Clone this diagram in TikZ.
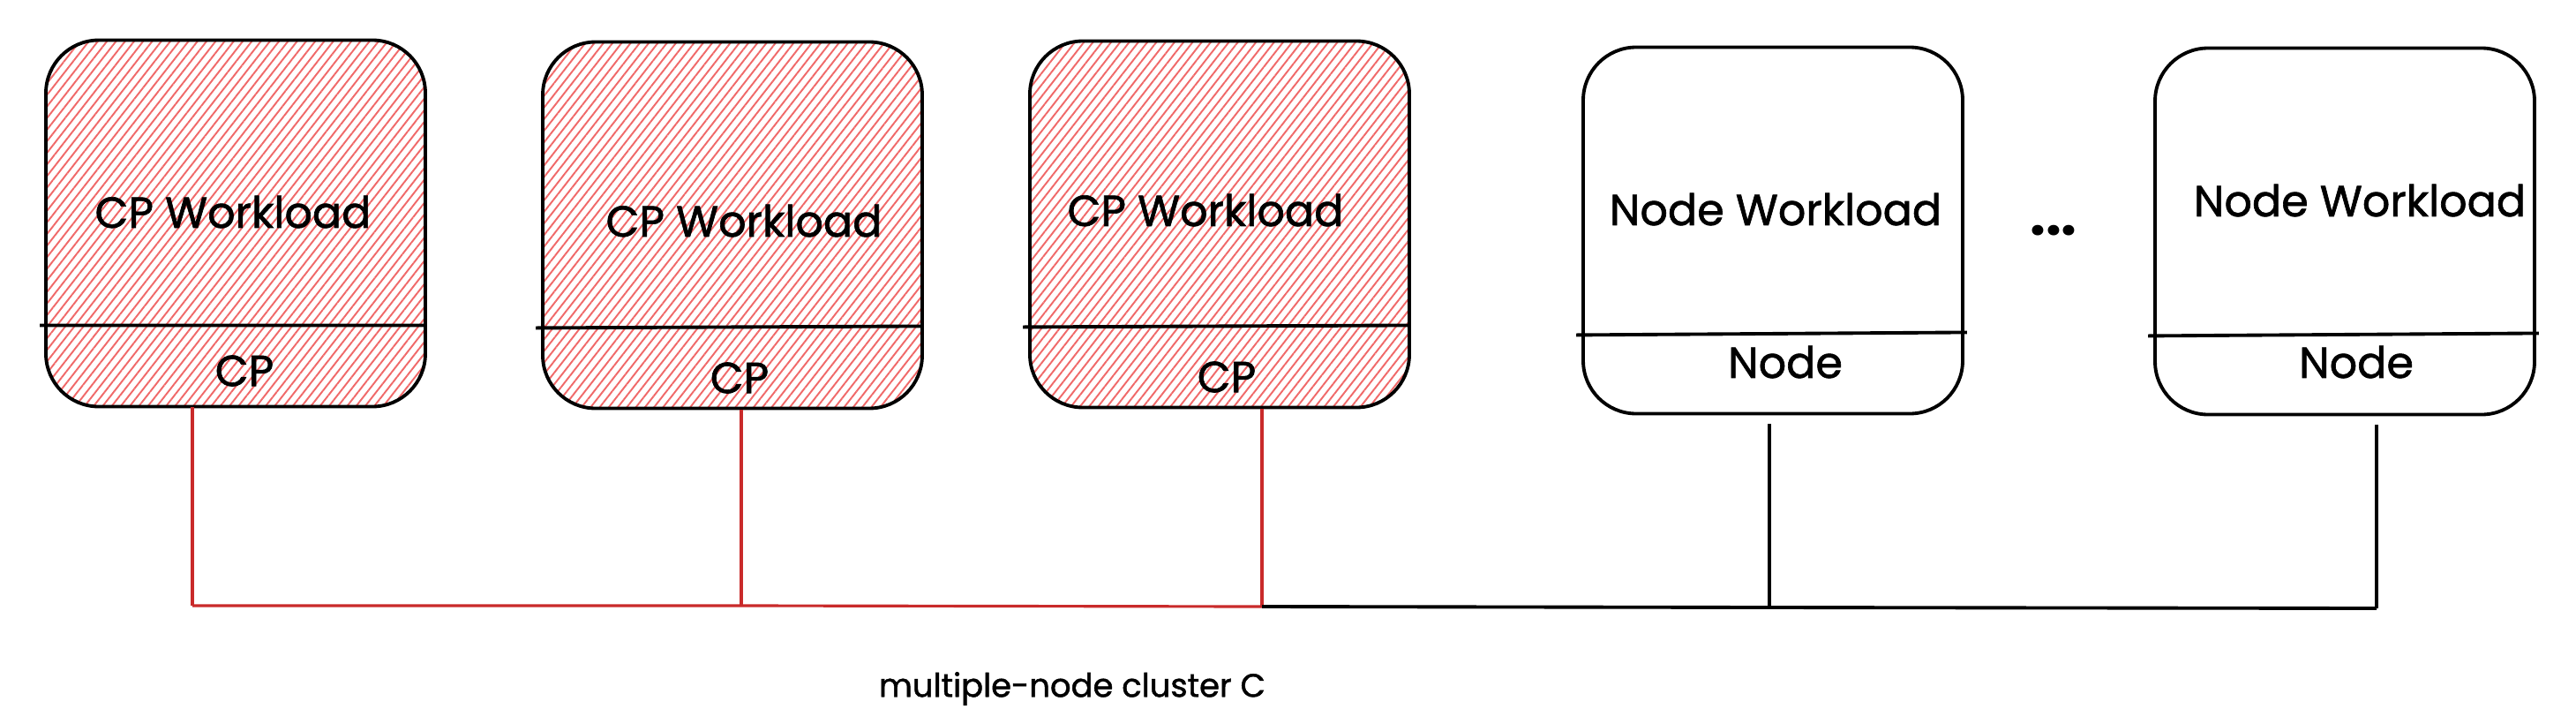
\documentclass[tikz,border=0pt]{standalone}
\usepackage{fontspec}
\usepackage{xcolor}
\setmainfont{Poppins}
\newfontfamily\handfont{Poppins}[FakeBold=1.3]
\usetikzlibrary{positioning,patterns.meta}
\definecolor{cpred}{RGB}{201,42,42}
\definecolor{hatchred}{RGB}{240,105,105}

\begin{document}
\begin{tikzpicture}[x=1mm, y=1mm,
        box/.style={draw, line width=1.1pt, rounded corners=6mm,
            minimum width=43mm, minimum height=41.5mm, inner sep=0pt},
        cpbox/.style={box, pattern={Lines[angle=52, distance=2.3pt, line width=0.55pt]},
            pattern color=hatchred},
        big/.style={font=\handfont\fontsize{14}{16}\selectfont},
        cpwire/.style={draw=cpred, line width=0.9pt},
        wire/.style={draw=black, line width=1.1pt}]
    \useasboundingbox (0,0) rectangle (291.9,81.9);

    % control plane boxes
    \node[cpbox] (cp1) at (26.7,56.6) {};
    \node[cpbox] (cp2) at (83.0,56.4) {};
    \node[cpbox] (cp3) at (138.2,56.5) {};
    % worker boxes
    \node[box] (wn1) at (200.9,55.8) {};
    \node[box] (wn2) at (265.7,55.7) {};

    \draw[line width=1.1pt] ([shift={(-0.6,9.3)}]cp1.south west) -- ([yshift=9.3mm]cp1.south east);
    \draw[line width=1.1pt] ([shift={(-0.6,9.3)}]cp2.south west) -- ([yshift=9.5mm]cp2.south east);
    \draw[line width=1.1pt] ([shift={(-0.6,9.3)}]cp3.south west) -- ([yshift=9.5mm]cp3.south east);
    \draw[line width=1.1pt] ([shift={(-0.6,9.1)}]wn1.south west) -- ([shift={(0.3,9.4)}]wn1.south east);
    \draw[line width=1.1pt] ([shift={(-0.6,9.1)}]wn2.south west) -- ([shift={(0.3,9.4)}]wn2.south east);

    \node[big] (cp1w) at (26.4,57.9) {CP Workload};
    \node[big] (cp2w) at (84.3,56.9) {CP Workload};
    \node[big] (cp3w) at (136.6,58.1) {CP Workload};
    \node[big] (wn1w) at (201.2,58.2) {Node Workload};
    \node[big] (wn2w) at (267.4,59.2) {Node Workload};

    \node[big] (cp1n) at (27.7,39.9) {CP};
    \node[big] (cp2n) at (83.8,39.1) {CP};
    \node[big] (cp3n) at (139.0,39.2) {CP};
    \node[big] (wn1n) at (202.3,40.9) {Node};
    \node[big] (wn2n) at (267.0,40.9) {Node};

    \node[font=\fontsize{18}{20}\selectfont\bfseries] (dots) at (232.7,55.8) {...};

    % bus
    \coordinate (j1) at (21.8,13.3);
    \coordinate (j2) at (84.0,13.3);
    \coordinate (j3) at (143.0,13.2);
    \coordinate (j4) at (200.5,13.1);
    \coordinate (j5) at (269.3,13.0);

    \draw[cpwire] (j1 |- cp1.south) -- (j1);
    \draw[cpwire] (j2 |- cp2.south) -- (j2);
    \draw[cpwire] (j3 |- cp3.south) -- (j3);
    \draw[cpwire] (j1) -- (j2) -- (j3);
    \draw[wire] ([yshift=-1mm]j4 |- wn1.south) -- (j4);
    \draw[wire] ([yshift=-1mm]j5 |- wn2.south) -- (j5);
    \draw[wire] (j3) -- (j4) -- (j5);

    \node[font=\handfont\fontsize{10.5}{12}\selectfont] (cname) at (121.5,3.9) {multiple-node cluster C};
\end{tikzpicture}
\end{document}
